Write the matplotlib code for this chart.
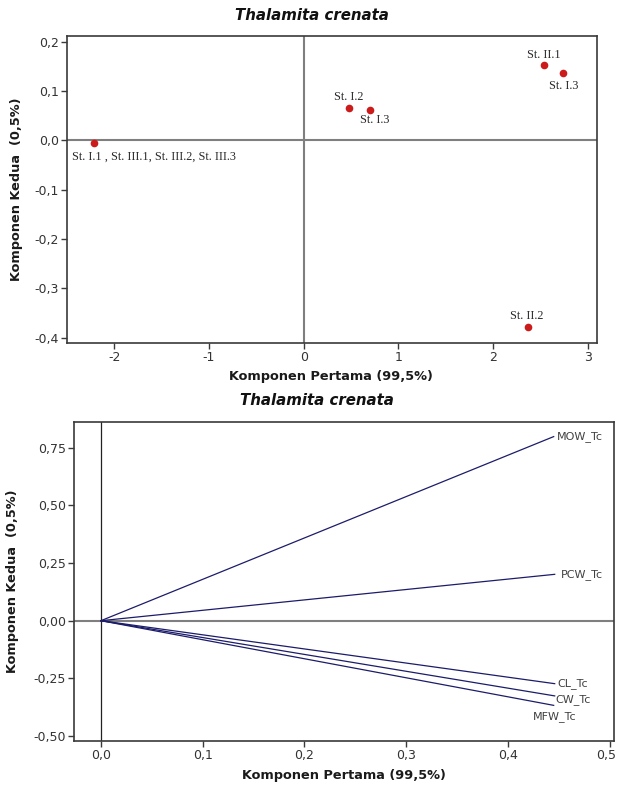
import matplotlib
matplotlib.use("Agg")
import matplotlib.pyplot as plt
from matplotlib.transforms import ScaledTranslation

# ---------------- data ----------------
# Score plot (top)
score_pc1 = [-2.21, 0.48, 0.70, 2.54, 2.735, 2.37]
score_pc2 = [-0.006, 0.066, 0.061, 0.152, 0.136, -0.379]
score_labels = ["St. I.1 , St. III.1, St. III.2, St. III.3", "St. I.2", "St. I.3",
                "St. II.1", "St. I.3", "St. II.2"]

# Loading plot (bottom)
load_pc1 = [0.445, 0.446, 0.446, 0.446, 0.445]
load_pc2 = [0.798, 0.201, -0.273, -0.326, -0.367]
load_labels = ["MOW_Tc", "PCW_Tc", "CL_Tc", "CW_Tc", "MFW_Tc"]

title = "Thalamita crenata"
xlabel = "Komponen Pertama (99,5%)"
ylabel = "Komponen Kedua  (0,5%)"

top_xticks = [-2, -1, 0, 1, 2, 3]
top_xticklabels = ["-2", "-1", "0", "1", "2", "3"]
top_yticks = [0.2, 0.1, 0.0, -0.1, -0.2, -0.3, -0.4]
top_yticklabels = ["0,2", "0,1", "0,0", "-0,1", "-0,2", "-0,3", "-0,4"]

bot_xticks = [0.0, 0.1, 0.2, 0.3, 0.4, 0.5]
bot_xticklabels = ["0,0", "0,1", "0,2", "0,3", "0,4", "0,5"]
bot_yticks = [0.75, 0.50, 0.25, 0.0, -0.25, -0.50]
bot_yticklabels = ["0,75", "0,50", "0,25", "0,00", "-0,25", "-0,50"]

# ---------------- styling ----------------
W, H = 617, 787
fig = plt.figure(figsize=(W / 100, H / 100), dpi=100)
fig.patch.set_facecolor("white")

tick_color = "#333333"
spine_color = "#3a3a3a"

def style_axes(ax):
    for s in ax.spines.values():
        s.set_color(spine_color)
        s.set_linewidth(1.2)
    ax.tick_params(axis="both", direction="out", length=4, width=1,
                   colors=spine_color, labelcolor=tick_color, labelsize=9, pad=2)
    ax.tick_params(top=False, right=False)

# ---------------- top: score plot ----------------
ax1 = fig.add_axes([67 / W, 1 - 342.7 / H, 530 / W, 306.7 / H])
style_axes(ax1)
ax1.set_xlim(-2.5, 3.098)
ax1.set_ylim(-0.4105, 0.2116)
ax1.axhline(0, color="#7f7f7f", lw=1.5, zorder=1)
ax1.axvline(0, color="#7f7f7f", lw=1.5, zorder=1)
ax1.plot(score_pc1, score_pc2, "o", color="#cc1b1b", markersize=5.5,
         markeredgewidth=0, zorder=3)

score_offsets = [(-16.3, -9.6), (0, 8), (3.6, -7.2), (0, 7.4), (0.7, -8.9), (-0.7, 8.1)]
score_ha = ["left", "center", "center", "center", "center", "center"]
for x, y, lab, off, ha in zip(score_pc1, score_pc2, score_labels, score_offsets, score_ha):
    ax1.annotate(lab, (x, y), xytext=off, textcoords="offset points",
                 ha=ha, va="center", fontsize=8.8, family="Liberation Serif",
                 color="#2a2a2a")

ax1.set_xticks(top_xticks)
ax1.set_xticklabels(top_xticklabels)
ax1.set_yticks(top_yticks)
ax1.set_yticklabels(top_yticklabels)

# ---------------- bottom: loading plot ----------------
ax2 = fig.add_axes([74 / W, 1 - 741 / H, 539.7 / W, 319.3 / H])
style_axes(ax2)
ax2.set_xlim(-0.0265, 0.504)
ax2.set_ylim(-0.5215, 0.8626)
ax2.axhline(0, color="#7f7f7f", lw=1.5, zorder=1)
ax2.axvline(0, color="#222222", lw=0.9, zorder=1)
for x, y in zip(load_pc1, load_pc2):
    ax2.plot([0, x], [0, y], color="#1c1c6a", lw=0.9, zorder=2)

load_offsets = [(2.4, 0), (4.8, 0), (2.0, 0), (0.7, -2.7), (-14.8, -7.7)]
for x, y, lab, off in zip(load_pc1, load_pc2, load_labels, load_offsets):
    ax2.annotate(lab, (x, y), xytext=off, textcoords="offset points",
                 ha="left", va="center", fontsize=8, color="#404040")

ax2.set_xticks(bot_xticks)
ax2.set_xticklabels(bot_xticklabels)
ax2.set_yticks(bot_yticks)
ax2.set_yticklabels(bot_yticklabels)
# keep the last tick label inside the figure edge
last = ax2.get_xticklabels()[-1]
last.set_transform(last.get_transform() + ScaledTranslation(-4 / 100, 0, fig.dpi_scale_trans))

# ---------------- titles and axis labels ----------------
title_kw = dict(ha="center", va="center", fontsize=10.8, fontweight="bold",
                style="italic", color="#111111")
fig.text(311.5 / W, 1 - 15 / H, title, **title_kw)
fig.text(317 / W, 1 - 400.7 / H, title, **title_kw)

lab_kw = dict(ha="center", va="center", fontsize=9.3, fontweight="bold", color="#1a1a1a")
fig.text(331 / W, 1 - 376.7 / H, xlabel, **lab_kw)
fig.text(344 / W, 1 - 775 / H, xlabel, **lab_kw)
fig.text(16.5 / W, 1 - 189 / H, ylabel, rotation=90, **lab_kw)
fig.text(13 / W, 1 - 581 / H, ylabel, rotation=90, **lab_kw)

fig.savefig("out.png", dpi=100)
